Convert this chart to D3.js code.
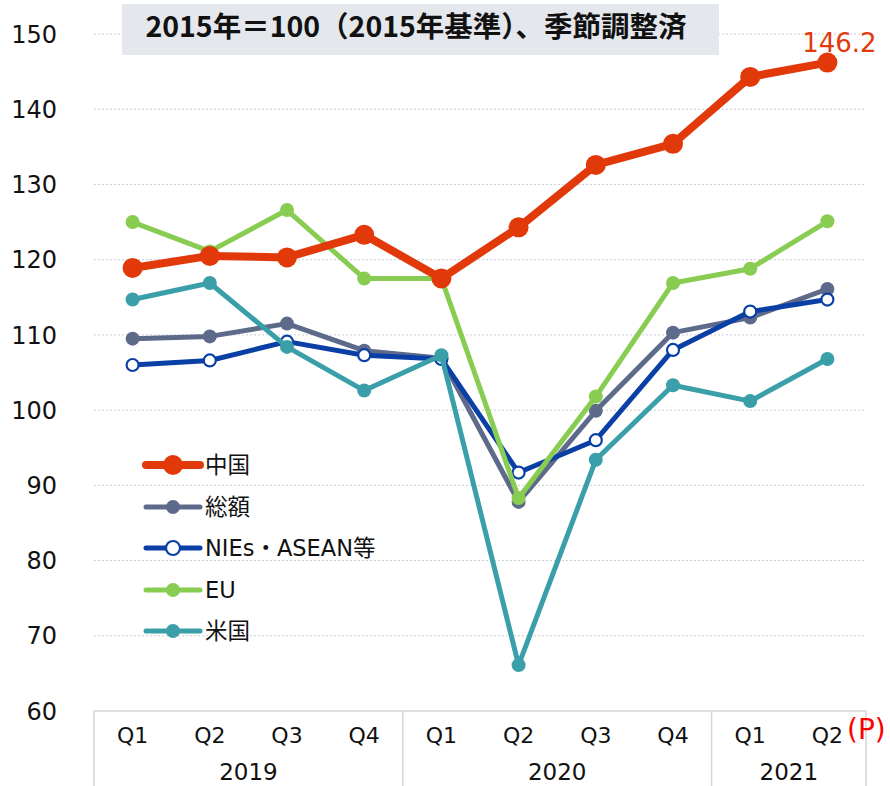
<!DOCTYPE html>
<html><head><meta charset="utf-8">
<script src="https://cdn.jsdelivr.net/npm/d3@7"></script>
<style>body{margin:0;background:#fff}svg{display:block}</style>
</head><body><svg id="c" width="890" height="786"></svg>
<script>
const quarters = ["Q1","Q2","Q3","Q4","Q1","Q2","Q3","Q4","Q1","Q2"];
const years = [{label:"2019", from:0, to:4},{label:"2020", from:4, to:8},{label:"2021", from:8, to:10}];
const yTicks = [60,70,80,90,100,110,120,130,140,150];
const china = [118.9,120.5,120.3,123.3,117.5,124.3,132.6,135.4,144.3,146.2];
const total = [109.5,109.8,111.5,107.9,106.9,87.8,99.9,110.3,112.3,116.1];
const nies  = [106.0,106.6,109.1,107.3,106.8,91.7,96.0,108.0,113.1,114.7];
const eu    = [125.0,121.1,126.6,117.5,117.5,88.3,101.8,116.9,118.8,125.1];
const us    = [114.7,116.9,108.4,102.6,107.3,66.1,93.4,103.3,101.2,106.8];
const seriesNames = ["中国","総額","NIEs・ASEAN等","EU","米国"];
const titleText = "2015年＝100（2015年基準）、季節調整済";
const lastLabel = "146.2";

const svg = d3.select("#c");
const font = "'DejaVu Sans', Verdana, sans-serif";
const legFont = "'DejaVu Sans', 'Noto Sans CJK JP', sans-serif";
const pL = 94, pR = 866, pT = 34, pB = 711;
const x = d3.scaleBand().domain(d3.range(quarters.length)).range([pL, pR]);
const y = d3.scaleLinear().domain([60,150]).range([pB, pT]);
const cx = i => x(i) + x.bandwidth()/2;

// gridlines
svg.append("g").selectAll("line").data(yTicks.filter(v=>v>60)).join("line")
  .attr("x1", pL).attr("x2", pR).attr("y1", d=>y(d)).attr("y2", d=>y(d))
  .attr("stroke", "#c8ccd8").attr("stroke-width", 1).attr("stroke-dasharray", "2,2");

// y labels
svg.append("g").selectAll("text").data(yTicks).join("text")
  .attr("x", 57).attr("y", d=>y(d)).attr("dy", "0.36em").attr("text-anchor","end")
  .attr("font-family", font).attr("font-size", 24).attr("fill","#111").text(d=>d);

// x axis box
const ax = svg.append("g").attr("stroke","#d6d6d6").attr("stroke-width",1.5);
ax.append("line").attr("x1", pL).attr("x2", pR).attr("y1", pB).attr("y2", pB);
const seps = [0,4,8,10];
ax.selectAll("line.s").data(seps).join("line").attr("class","s")
  .attr("x1", d=> d===10 ? pR : x(d)).attr("x2", d=> d===10 ? pR : x(d))
  .attr("y1", pB).attr("y2", 786);

svg.append("g").selectAll("text").data(quarters).join("text")
  .attr("x", (d,i)=>cx(i)).attr("y", 735).attr("dy","0.36em").attr("text-anchor","middle")
  .attr("font-family",font).attr("font-size",22).attr("fill","#111")
  .text(d=>d);
const yc = d => (x(d.from) + (d.to===10 ? pR : x(d.to)))/2;
svg.append("g").selectAll("text").data(years).join("text")
  .attr("x", yc).attr("y", 772).attr("dy","0.36em")
  .attr("text-anchor","middle").attr("font-family",font)
  .attr("font-size",23).attr("fill","#111")
  .text(d=>d.label);
svg.append("text").attr("x", 847).attr("y", 729).attr("dy","0.36em")
  .attr("font-family",font).attr("font-size",28).attr("fill","#ff0000").text("(P)");

// series
const series = [
  {name:seriesNames[2], data:nies, color:"#0a3fa6", w:5, r:6, fill:"#fff", sw:2.2},
  {name:seriesNames[1], data:total, color:"#5e6a8a", w:5, r:7, fill:"#5e6a8a", sw:0},
  {name:seriesNames[3], data:eu, color:"#88cc52", w:5, r:7, fill:"#88cc52", sw:0},
  {name:seriesNames[4], data:us, color:"#3a9fa9", w:5, r:7, fill:"#3a9fa9", sw:0},
  {name:seriesNames[0], data:china, color:"#e2390b", w:8, r:10, fill:"#e2390b", sw:0}
];
const line = d3.line().x((d,i)=>cx(i)).y(d=>y(d));
const order = [1,0,2,3,4];
order.forEach(k=>{
  const s = series[k];
  const g = svg.append("g");
  g.append("path").attr("d", line(s.data)).attr("fill","none").attr("stroke", s.color)
    .attr("stroke-width", s.w).attr("stroke-linejoin","round");
  g.selectAll("circle").data(s.data).join("circle")
    .attr("cx",(d,i)=>cx(i)).attr("cy", d=>y(d)).attr("r", s.r)
    .attr("fill", s.fill).attr("stroke", s.color).attr("stroke-width", s.sw);
});

// last label
svg.append("text").attr("x", cx(9)+12).attr("y", 43).attr("dy","0.36em").attr("text-anchor","middle")
  .attr("font-family", font).attr("font-size", 26).attr("fill","#e2390b").text(lastLabel);

// title box
svg.append("rect").attr("x",122).attr("y",4).attr("width",597).attr("height",51).attr("fill","#e4e7ec");
svg.append("text").attr("x", 416).attr("y", 37)
  .attr("text-anchor","middle")
  .attr("font-family","'Noto Sans CJK JP', sans-serif").attr("font-weight","bold").attr("font-size",28.5)
  .attr("fill","#111").text(titleText);

// legend
const legOrder = [
  {name:seriesNames[0], s:series[4], big:true},
  {name:seriesNames[1], s:series[1]},
  {name:seriesNames[2], s:series[0]},
  {name:seriesNames[3], s:series[2]},
  {name:seriesNames[4], s:series[3]}
];
const legY = [465,507,548,590,631];
const lg = svg.append("g");
legOrder.forEach((d,i)=>{
  const yy = legY[i];
  lg.append("line").attr("x1",146).attr("x2",200).attr("y1",yy).attr("y2",yy)
    .attr("stroke", d.s.color).attr("stroke-width", d.big?8:5).attr("stroke-linecap","round");
  lg.append("circle").attr("cx",173).attr("cy",yy).attr("r", d.big?10:7)
    .attr("fill", d.s.fill).attr("stroke", d.s.color).attr("stroke-width", d.s.sw);
  lg.append("text").attr("x",205).attr("y",yy).attr("dy","0.36em")
    .attr("font-family",legFont).attr("font-size",22.5).attr("fill","#111").text(d.name);
});
</script></body></html>
